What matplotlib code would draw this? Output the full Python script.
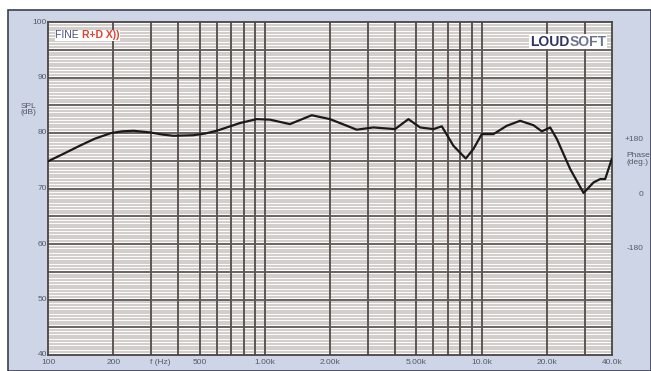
import matplotlib
matplotlib.use("Agg")
import matplotlib.pyplot as plt
import matplotlib.transforms as mtransforms
from matplotlib.patches import Rectangle
import numpy as np

# ---- data ----
freq_hz = [100, 120, 140, 165, 196, 220, 248, 296, 340, 379, 469, 530, 600, 692, 769,
           918, 1058, 1306, 1647, 2000, 2655, 3170, 3990, 4600, 5210, 6000, 6560,
           7420, 8460, 9170, 10030, 11350, 13080, 15070, 17370, 18980, 20740, 22280,
           25660, 29560, 32890, 35290, 37200, 39900]
spl_db = [74.9, 76.4, 77.7, 79.0, 80.0, 80.3, 80.4, 80.1, 79.7, 79.5, 79.6, 79.9, 80.4, 81.2, 81.8,
          82.5, 82.4, 81.6, 83.2, 82.5, 80.6, 81.0, 80.7, 82.5, 81.0, 80.7, 81.2,
          77.7, 75.4, 77.1, 79.8, 79.8, 81.3, 82.2, 81.4, 80.3, 81.0, 78.9,
          73.5, 69.2, 71.1, 71.7, 71.7, 75.3]

x_tick_vals = [100, 200, 500, 1000, 2000, 5000, 10000, 20000, 40000]
x_tick_labels = ["100", "200", "500", "1.00k", "2.00k", "5.00k", "10.0k", "20.0k", "40.0k"]
x_grid_vals = [100, 200, 300, 400, 500, 600, 700, 800, 900, 1000, 2000, 3000, 4000, 5000,
               6000, 7000, 8000, 9000, 10000, 20000, 30000, 40000]
y_tick_vals = [40, 50, 60, 70, 80, 90, 100]
phase_labels = ["+180", "0", "-180"]
phase_label_db = [78.9, 69.0, 59.1]

panel_color = "#cdd5e6"
major_color = "#5e5652"
minor_color = "#d2cecc"
label_color = "#555a66"
fs = 6

fig = plt.figure(figsize=(6.51, 3.71), dpi=100)
fig.patch.set_facecolor("white")
# outer panel
bg = Rectangle((8/651, 0), 1 - 8/651, 1 - 10/371, transform=fig.transFigure,
               facecolor=panel_color, edgecolor="#3a3f50", linewidth=1.2, zorder=-10)
fig.add_artist(bg)

ax = fig.add_axes([48/651, 16/371, (612-48)/651, (355-22)/371])
ax.set_zorder(1)
ax.set_facecolor("white")
ax.set_xscale("log")
ax.set_xlim(100, 40000)
ax.set_ylim(40, 100)

# minor horizontal lines every 0.5 dB
for v in np.arange(40.5, 100, 0.5):
    if abs(v/5 - round(v/5)) > 1e-6:
        ax.axhline(v, color=minor_color, lw=1.5, zorder=1)
for v in range(45, 100, 5):
    ax.axhline(v, color=major_color, lw=1.3, zorder=2)
for f in x_grid_vals[1:-1]:
    ax.axvline(f, color=major_color, lw=1.4, zorder=2)

ax.plot(freq_hz, spl_db, color="#1a1a1a", lw=1.6, zorder=5, solid_joinstyle="round")

for s in ax.spines.values():
    s.set_color("#4a4442")
    s.set_linewidth(1.3)

ax.set_xticks([])
ax.set_yticks([])
ax.minorticks_off()

tr_xdata = mtransforms.blended_transform_factory(ax.transData, ax.transAxes)
for f, lab in zip(x_tick_vals, x_tick_labels):
    ax.text(f, -0.012, lab, transform=tr_xdata, ha="center", va="top", fontsize=fs,
            color=label_color, family="Liberation Sans", clip_on=False)
ax.text(330, -0.012, "f (Hz)", transform=tr_xdata, ha="center", va="top", fontsize=fs,
        color=label_color, family="Liberation Sans", clip_on=False)

tr_ydata = mtransforms.blended_transform_factory(ax.transAxes, ax.transData)
for v in y_tick_vals:
    ax.text(-0.002, v, str(v), transform=tr_ydata, ha="right", va="center", fontsize=fs,
            color=label_color, family="Liberation Sans", clip_on=False)
ax.text(-0.035, 84.2, "SPL\n(dB)", transform=tr_ydata, ha="center", va="center", fontsize=fs,
        color=label_color, family="Liberation Sans", linespacing=0.9, clip_on=False)

for lab, v in zip(phase_labels, phase_label_db):
    ax.text(1.056, v, lab, transform=tr_ydata, ha="right", va="center", fontsize=fs,
            color=label_color, family="Liberation Sans", clip_on=False)
ax.text(1.046, 75.3, "Phase\n(deg.)", transform=tr_ydata, ha="center", va="center", fontsize=fs,
        color=label_color, family="Liberation Sans", linespacing=0.9, clip_on=False)

# Brand texts
bbox = dict(facecolor="white", edgecolor="none", pad=0.5)
t1 = ax.text(0.013, 0.975, "FINE ", transform=ax.transAxes, ha="left", va="top", fontsize=7.5,
             color="#4a5080", family="Liberation Sans", zorder=6, bbox=bbox)
fig.canvas.draw()
bb = t1.get_window_extent()
ax.annotate("R+D X))", xy=(bb.x1, bb.y1), xycoords="figure pixels", ha="left", va="top",
            fontsize=7.5, color="#e0402c", family="Liberation Sans", weight="bold", zorder=6,
            bbox=bbox)

t3 = ax.text(0.99, 0.962, "SOFT", transform=ax.transAxes, ha="right", va="top", fontsize=10,
             color="#6b7390", family="Liberation Sans", weight="bold", zorder=6, bbox=bbox)
fig.canvas.draw()
bb3 = t3.get_window_extent()
ax.annotate("LOUD", xy=(bb3.x0, bb3.y1), xycoords="figure pixels", ha="right", va="top",
            fontsize=10, color="#2e3560", family="Liberation Sans", weight="bold", zorder=6,
            bbox=bbox)

fig.savefig("out.png", dpi=100, facecolor=fig.get_facecolor())
